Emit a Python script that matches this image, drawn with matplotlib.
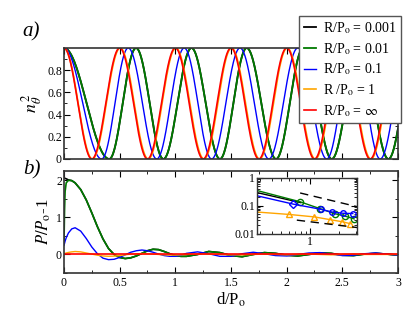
import numpy as np
import matplotlib
matplotlib.use('Agg')
import matplotlib.pyplot as plt
from matplotlib.ticker import MultipleLocator, LogLocator, NullFormatter

plt.rcParams['font.family'] = ['Liberation Serif', 'DejaVu Serif']
plt.rcParams['mathtext.fontset'] = 'stix'

# ---- data ----
labels = ['R/P$_\\mathrm{o}$ = 0.001', 'R/P$_\\mathrm{o}$ = 0.01', 'R/P$_\\mathrm{o}$ = 0.1',
          'R /P$_\\mathrm{o}$ = 1', 'R/P$_\\mathrm{o}$ = $\\infty$']
colors = ['black', '#007a00', '#0000ff', '#ffa500', '#ff0000']

# panel a): d/Po where n^2 hits successive max / zero / max ... (quarter turns)
quarter_black = [0, 0.407, 0.647, 0.893, 1.145, 1.401, 1.641, 1.905, 2.15, 2.405, 2.66, 2.914, 3.16]
quarter_green = [0, 0.407, 0.647, 0.893, 1.145, 1.401, 1.641, 1.905, 2.15, 2.405, 2.66, 2.914, 3.16]
quarter_blue = [0, 0.338, 0.577, 0.833, 1.08, 1.326, 1.581, 1.84, 2.10, 2.36, 2.60, 2.84, 3.09]
quarter_orange = [0, 0.255, 0.505, 0.757, 1.005, 1.257, 1.505, 1.757, 2.005, 2.257, 2.505, 2.757, 3.005]
quarter_red = [0, 0.25, 0.5, 0.75, 1.0, 1.25, 1.5, 1.75, 2.0, 2.25, 2.5, 2.75, 3.0]

# panel b): P/Po - 1 versus d/Po
d_b = [0, 0.005, 0.01, 0.02, 0.04, 0.07, 0.1, 0.15, 0.2, 0.25, 0.3, 0.35, 0.4, 0.45,
       0.5, 0.55, 0.6, 0.65, 0.7, 0.75, 0.8, 0.85, 0.9, 0.95, 1.0, 1.05, 1.1, 1.2,
       1.3, 1.4, 1.5, 1.6, 1.7, 1.8, 1.9, 2.0, 2.1, 2.2, 2.3, 2.4, 2.5, 2.6, 2.7,
       2.8, 2.9, 3.0]
p_black = [2.06, 2.06, 2.05, 2.04, 2.01, 1.99, 1.93, 1.75, 1.47, 1.12, 0.75, 0.42, 0.16, 0.0,
           -0.08, -0.11, -0.09, -0.04, 0.03, 0.10, 0.14, 0.13, 0.08, 0.02, -0.03, -0.05, -0.05, 0.0,
           0.08, 0.05, -0.03, -0.06, 0.0, 0.05, 0.03, -0.02, -0.04, 0.0, 0.04, 0.03, -0.02, -0.03,
           0.01, 0.03, 0.01, -0.02]
p_green = [0.3, 1.2, 1.7, 1.93, 2.0, 1.99, 1.93, 1.75, 1.47, 1.12, 0.75, 0.42, 0.16, 0.0,
           -0.08, -0.11, -0.09, -0.04, 0.03, 0.10, 0.14, 0.13, 0.08, 0.02, -0.03, -0.05, -0.05, 0.0,
           0.08, 0.05, -0.03, -0.06, 0.0, 0.05, 0.03, -0.02, -0.04, 0.0, 0.04, 0.03, -0.02, -0.03,
           0.01, 0.03, 0.01, -0.02]
p_blue = [0.25, 0.3, 0.36, 0.45, 0.58, 0.69, 0.72, 0.63, 0.43, 0.2, 0.02, -0.1, -0.14, -0.13,
          -0.08, -0.01, 0.06, 0.10, 0.12, 0.10, 0.06, 0.01, -0.03, -0.05, -0.05, -0.02, 0.03, 0.07,
          0.02, -0.05, -0.05, 0.02, 0.06, 0.02, -0.03, -0.04, 0.0, 0.04, 0.05, 0.01, -0.03, -0.02,
          0.02, 0.04, 0.01, -0.02]
p_orange = [0.02, 0.025, 0.03, 0.04, 0.055, 0.07, 0.08, 0.07, 0.04, 0.01, -0.02, -0.04, -0.05, -0.045,
            -0.03, -0.01, 0.01, 0.02, 0.025, 0.02, 0.01, 0.0, -0.01, -0.015, -0.015, -0.01, 0.0, 0.01,
            0.01, 0.0, -0.01, -0.01, 0.0, 0.01, 0.0, -0.01, 0.0, 0.01, 0.0, -0.01, 0.0, 0.01,
            0.0, 0.0, 0.0, 0.0]
p_red = [0.0] * len(d_b)

# inset (log-log)
ins_black_x = [0.28, 0.8]
ins_black_y = [0.30, 0.13]
ins_green_x = [0.28, 0.787, 1.27, 1.82, 2.3, 2.87]
ins_green_y = [0.355, 0.14, 0.079, 0.052, 0.043, 0.034]
ins_blue_x = [0.28, 0.67, 1.30, 1.68, 2.22, 2.78]
ins_blue_y = [0.23, 0.115, 0.075, 0.06, 0.054, 0.053]
ins_orange_x = [0.28, 0.61, 1.11, 1.61, 2.14, 2.61]
ins_orange_y = [0.06, 0.049, 0.04, 0.032, 0.027, 0.023]
guide_hi_x = [0.787, 3.06]
guide_hi_y = [0.29, 0.094]
guide_lo_x = [0.727, 3.1]
guide_lo_y = [0.0307, 0.0166]

fig = plt.figure(figsize=(4.15, 3.21), dpi=100)
ax_a = fig.add_axes([0.1542, 0.5047, 0.8048, 0.3458])
ax_b = fig.add_axes([0.1542, 0.1495, 0.8048, 0.3178])
ax_in = fig.add_axes([0.6193, 0.272, 0.2417, 0.1735])


def style_axes(ax):
    for s in ax.spines.values():
        s.set_linewidth(1.2)
        s.set_color('#333333')
    ax.tick_params(which='both', direction='in', top=True, right=True, labelsize=8.5, pad=1.5)
    ax.tick_params(which='major', length=4, width=0.8)
    ax.tick_params(which='minor', length=2, width=0.6)


# panel a
d_a = np.linspace(0, 3, 1200)
quarters = [quarter_black, quarter_green, quarter_blue, quarter_orange, quarter_red]
widths_a = [1.3, 1.3, 1.0, 1.2, 1.2]
for q, c, lw, lab in zip(quarters, colors, widths_a, labels):
    k = np.interp(d_a, q, np.arange(len(q)))
    ax_a.plot(d_a, np.cos(np.pi / 2 * k) ** 2, color=c, lw=lw, label=lab)
ax_a.set_xlim(0, 3)
ax_a.set_ylim(0, 1)
ax_a.xaxis.set_major_locator(MultipleLocator(0.5))
ax_a.yaxis.set_minor_locator(MultipleLocator(0.1))
ax_a.set_yticks([0, 0.2, 0.4, 0.6, 0.8])
ax_a.set_yticklabels(['0', '0.2', '0.4', '0.6', '0.8'])
ax_a.tick_params(labelbottom=False)
style_axes(ax_a)
ax_a.set_ylabel('$n_\\theta^{\\,2}$', fontsize=13, labelpad=2)

# panel b
series_b = [p_black, p_green, p_blue, p_orange, p_red]
widths_b = [1.2, 1.2, 1.0, 1.0, 1.2]
for p, c, lw in zip(series_b, colors, widths_b):
    ax_b.plot(d_b, p, color=c, lw=lw)
ax_b.set_xlim(0, 3)
ax_b.set_ylim(-0.5, 2.25)
ax_b.xaxis.set_minor_locator(MultipleLocator(0.25))
ax_b.yaxis.set_minor_locator(MultipleLocator(0.5))
ax_b.set_xticks([0, 0.5, 1, 1.5, 2, 2.5, 3])
ax_b.set_xticklabels(['0', '0.5', '1', '1.5', '2', '2.5', '3'])
ax_b.set_yticks([0, 1, 2])
ax_b.set_yticklabels(['0', '1', '2'])
style_axes(ax_b)
ax_b.tick_params(axis='x', pad=3)
ax_b.set_xlabel('d/P$_\\mathrm{o}$', fontsize=12, labelpad=1)
ax_b.set_ylabel('$P/P_\\mathrm{o}$-1', fontsize=12, labelpad=2)

# inset
ax_in.plot(ins_black_x, ins_black_y, color='black', lw=1.0)
ax_in.plot(ins_green_x, ins_green_y, color=colors[1], lw=1.0, marker='o', ms=4.5,
           mfc='none', mew=1.0, markevery=list(range(1, len(ins_green_x))))
ax_in.plot(ins_blue_x, ins_blue_y, color=colors[2], lw=1.0, marker='o', ms=4,
           mfc='none', mew=1.0, markevery=list(range(2, len(ins_blue_x))))
ax_in.plot(ins_blue_x[1:2], ins_blue_y[1:2], color=colors[2], marker='D', ms=4,
           mfc='none', mew=1.0, ls='none')
ax_in.plot(ins_orange_x, ins_orange_y, color=colors[3], lw=1.0, marker='^', ms=4.5,
           mfc='none', mew=1.0, markevery=list(range(1, len(ins_orange_x))))
ax_in.plot(guide_hi_x, guide_hi_y, color='black', lw=1.0, ls=(0, (6, 4)))
ax_in.plot(guide_lo_x, guide_lo_y, color='black', lw=1.0, ls=(0, (6, 4)))
ax_in.set_xscale('log')
ax_in.set_yscale('log')
ax_in.set_xlim(0.28, 3.1)
ax_in.set_ylim(0.01, 1)
ax_in.set_xticks([1])
ax_in.set_xticklabels(['1'])
ax_in.xaxis.set_minor_locator(LogLocator(base=10, subs=np.arange(2, 10)))
ax_in.xaxis.set_minor_formatter(NullFormatter())
ax_in.set_yticks([0.01, 0.1, 1])
ax_in.set_yticklabels(['0.01', '0.1', '1'])
ax_in.yaxis.set_minor_locator(LogLocator(base=10, subs=np.arange(2, 10)))
ax_in.yaxis.set_minor_formatter(NullFormatter())
style_axes(ax_in)
ax_in.tick_params(which='both', labelsize=8.5, pad=1.5)
for s in ax_in.spines.values():
    s.set_linewidth(1.0)

# legend sits partly above the top panel
leg = fig.legend(*ax_a.get_legend_handles_labels(), loc='upper right',
                 bbox_to_anchor=(0.966, 0.950), bbox_transform=fig.transFigure,
                 fontsize=10, handlelength=0.9, handletextpad=0.5, labelspacing=0.35,
                 borderpad=0.3, borderaxespad=0, fancybox=False, framealpha=1)
leg.get_frame().set_edgecolor('#555555')
leg.get_frame().set_linewidth(1.0)

fig.text(0.055, 0.885, 'a)', fontsize=15, style='italic')
fig.text(0.055, 0.455, 'b)', fontsize=15, style='italic')

fig.savefig('out.png', dpi=100)
